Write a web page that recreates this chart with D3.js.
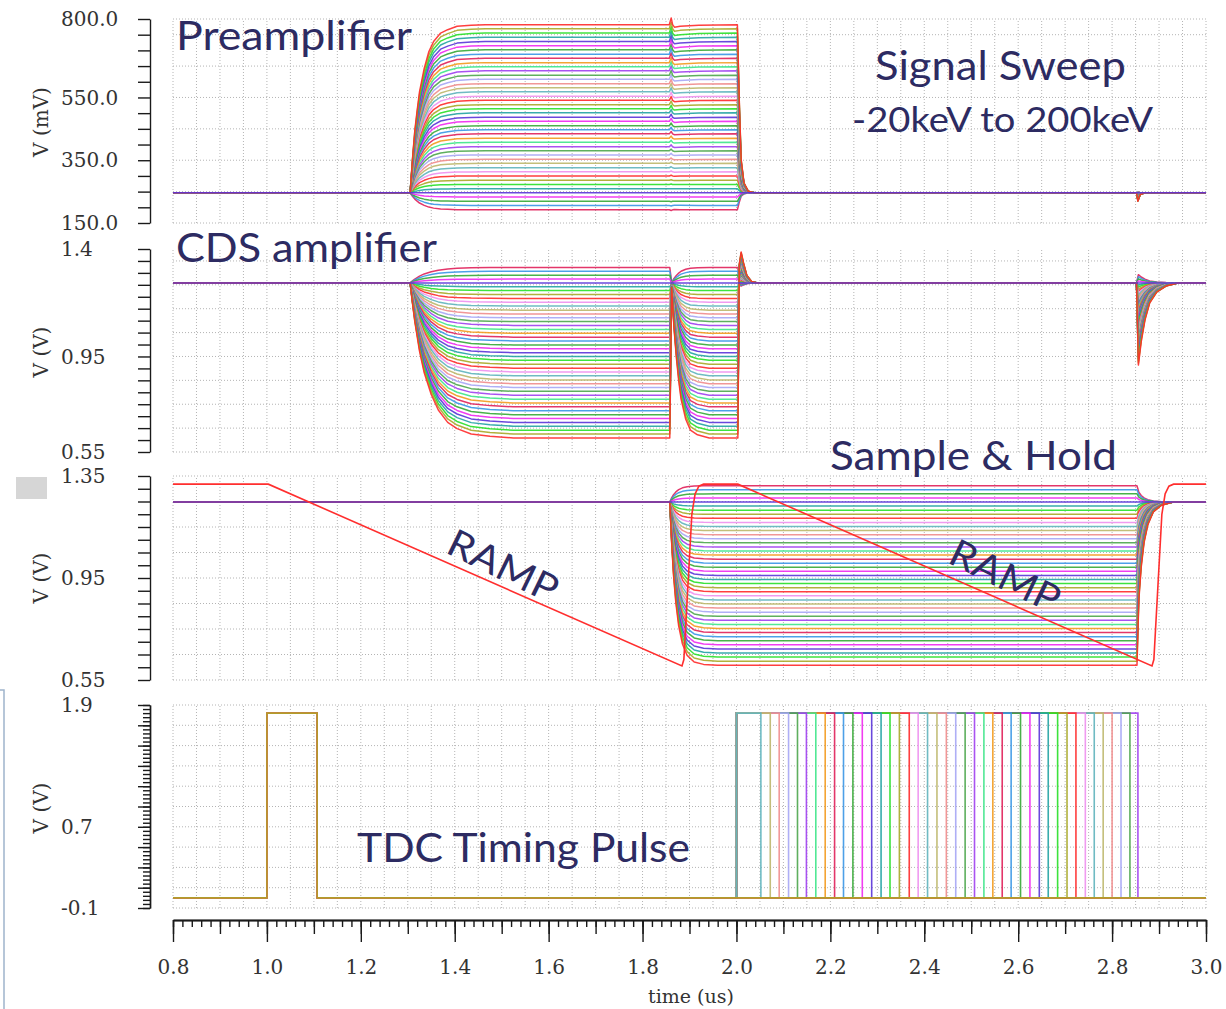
<!DOCTYPE html>
<html>
<head>
<meta charset="utf-8">
<script src="https://cdn.jsdelivr.net/npm/d3@7"></script>
<style>
  body { margin: 0; background: #fff; }
  svg { display: block; }
</style>
</head>
<body>
<svg id="chart" width="1226" height="1009"></svg>
<script>
// ---- data ----
var energyKeV = [-20,-15,-10,-5,0,5,10,15,20,25,30,35,40,45,50,55,60,65,70,75,80,85,90,95,100,
                 105,110,115,120,125,130,135,140,145,150,155,160,165,170,175,180,185,190,195,200];

// preamplifier plateau (mV), baseline 246 mV
var preBase = 246;
var preLevel = [192,206,219,233,246,259,273,286,300,313,326,340,353,367,380,393,407,420,434,447,460,474,487,501,514,
                527,541,554,568,581,594,608,621,635,648,661,675,688,702,715,728,742,755,769,782];

// CDS amplifier output level (V), baseline 1.258 V
var cdsBase = 1.258;
var cdsLevel = [1.323,1.307,1.290,1.274,1.258,1.242,1.226,1.209,1.193,1.177,1.161,1.144,1.128,1.112,1.096,
                1.080,1.063,1.047,1.031,1.015,0.998,0.982,0.966,0.950,0.934,0.917,0.901,0.885,0.869,0.852,
                0.836,0.820,0.804,0.788,0.771,0.755,0.739,0.723,0.706,0.690,0.674,0.658,0.641,0.625,0.609];

// sample & hold level (V), baseline 1.248 V
var shBase = 1.248;
var shLevel = [1.312,1.296,1.280,1.264,1.248,1.232,1.216,1.200,1.184,1.168,1.152,1.136,1.120,1.104,1.088,
               1.072,1.056,1.040,1.024,1.008,0.992,0.976,0.960,0.944,0.928,0.912,0.896,0.880,0.864,0.848,
               0.832,0.816,0.800,0.784,0.768,0.752,0.736,0.720,0.704,0.688,0.672,0.656,0.640,0.624,0.608];

// TDC falling edge of the second pulse (us); null = never goes high
var tdcFall = [null,null,null,2.052,2.072,2.091,2.111,2.130,2.149,2.169,2.189,2.209,2.228,2.248,2.268,
               2.288,2.308,2.327,2.347,2.368,2.387,2.407,2.427,2.447,2.467,2.487,2.507,2.527,2.546,2.566,
               2.585,2.605,2.625,2.645,2.664,2.684,2.704,2.723,2.743,2.762,2.781,2.800,2.819,2.838,2.855];
var tdcLow = 0.0, tdcHigh = 1.82;
var tdcPulse1 = [1.0, 1.107];
var tdcPulse2Rise = 2.0;

// waveform shapes: [time (us), fraction of the trace's step]
var preShape = [[0.8,0],[1.305,0],[1.310,0.20],[1.315,0.37],[1.320,0.49],[1.325,0.60],[1.335,0.74],
  [1.345,0.84],[1.355,0.90],[1.370,0.95],[1.385,0.97],[1.405,0.99],[1.435,0.997],[1.465,1],[1.857,1],
  [1.861,1.04],[1.864,1.0],[1.868,0.985],[1.88,0.99],[1.92,0.997],[2.002,1],[2.006,0.55],[2.010,0.2],
  [2.016,0.06],[2.025,0.01],[2.04,0],[2.852,0],[2.855,-0.05],[2.860,-0.01],[2.87,0],[3.0,0]];

var cdsShape = [[0.8,0],[1.305,0],[1.310,0.13],[1.315,0.25],[1.325,0.44],[1.335,0.58],[1.350,0.72],
  [1.365,0.82],[1.385,0.90],[1.405,0.94],[1.435,0.975],[1.475,0.99],[1.525,1],[1.858,1],[1.862,0.03],
  [1.867,0.29],[1.872,0.48],[1.877,0.63],[1.882,0.75],[1.892,0.88],[1.902,0.95],[1.917,0.98],[1.942,1],
  [2.003,1],[2.006,-0.12],[2.010,-0.2],[2.015,-0.13],[2.022,-0.05],[2.032,-0.01],[2.045,0],[2.852,0],
  [2.856,0.53],[2.862,0.38],[2.870,0.24],[2.880,0.13],[2.895,0.06],[2.915,0.02],[2.94,0],[3.0,0]];

var shShape = [[0.8,0],[1.858,0],[1.862,0.25],[1.866,0.45],[1.871,0.62],[1.877,0.76],[1.885,0.87],
  [1.895,0.94],[1.91,0.98],[1.93,0.995],[1.96,1],[2.853,1],[2.857,0.6],[2.862,0.4],[2.868,0.25],
  [2.876,0.14],[2.888,0.06],[2.905,0.02],[2.93,0],[3.0,0]];

// RAMP trace (V)
var rampT = [0.8,1.003,1.884,1.888,1.905,1.912,1.920,1.930,2.003,2.885,2.889,2.906,2.913,2.921,2.931,3.0];
var rampV = [1.318,1.318,0.605,0.63,1.20,1.28,1.31,1.318,1.318,0.605,0.63,1.20,1.28,1.31,1.318,1.318];

// axis tick labels
var timeTicks = [0.8,1.0,1.2,1.4,1.6,1.8,2.0,2.2,2.4,2.6,2.8,3.0];
var preLabels = [800,550,350,150];
var cdsLabels = ["1.4","0.95","0.55"];
var shLabels = ["1.35","0.95","0.55"];
var tdcLabels = ["1.9","0.7","-0.1"];

var palette = ["#ff2a2a","#ee90ee","#5fb4bc","#bdb76b","#f08c8c","#a6a6f5","#4ca64c","#a040f0","#3ee68a",
               "#f39a1e","#e0205a","#3a96e6","#36a836","#f028f0","#5a34d8","#22a3a3","#28e028","#a8a828"];
function sweepColor(k) { return palette[(k + 10) % palette.length]; }
function tdcColor(k) { return palette[(k + 17) % palette.length]; }

// ---- layout ----
var svg = d3.select("#chart");
var x = d3.scaleLinear().domain([0.8, 3.0]).range([173, 1206]);

var yPre = d3.scaleLinear().domain([150, 800]).range([223, 19]);
var yCds = d3.scaleLinear().domain([0.55, 1.4]).range([452, 249]);
var ySh  = d3.scaleLinear().domain([0.55, 1.35]).range([680, 476]);
var yTdc = d3.scaleLinear().domain([-0.1, 1.9]).range([908, 705]);

var tickFont = "DejaVu Serif";
var tickColor = "#333";
var noteColor = "#2d2b62";

// left-side decorations
svg.append("rect").attr("x", 16).attr("y", 477).attr("width", 31).attr("height", 22).attr("fill", "#d6d6d6");
svg.append("path").attr("d", "M0,690H4V1009").attr("fill", "none")
  .attr("stroke", "#9fb4cc").attr("stroke-width", 1.5);

// grid
function grid(y, lo, hi, step) {
  var g = svg.append("g").attr("stroke", "#b4b4b4").attr("stroke-width", 1)
    .attr("stroke-dasharray", "1,2");
  var y0 = y.range()[0], y1 = y.range()[1];
  d3.range(0, 45).forEach(function(i) {
    var xv = x(0.8 + i * 0.05);
    g.append("line").attr("x1", xv).attr("x2", xv).attr("y1", y0).attr("y2", y1);
  });
  d3.range(0, Math.round((hi - lo) / step) + 1).forEach(function(i) {
    var yv = y(lo + i * step);
    g.append("line").attr("x1", x(0.8)).attr("x2", x(3.0)).attr("y1", yv).attr("y2", yv);
  });
  return g;
}
grid(yPre, 150, 750, 100).append("line").attr("x1", x(0.8)).attr("x2", x(3.0))
  .attr("y1", yPre(800)).attr("y2", yPre(800));
grid(yCds, 0.55, 1.35, 0.1);
grid(ySh, 0.55, 1.35, 0.1);
grid(yTdc, -0.1, 1.9, 0.2);

// y axes
function yAxis(y, lo, hi, step, size) {
  var vals = d3.range(0, Math.round((hi - lo) / step) + 1).map(function(i) { return lo + i * step; });
  var g = svg.append("g").attr("transform", "translate(150,0)")
    .call(d3.axisLeft(y).tickValues(vals).tickSize(size).tickSizeOuter(0).tickFormat(""));
  g.selectAll("line, path").attr("stroke", "#1a1a1a").attr("stroke-width", 1.4);
  return g;
}
yAxis(yPre, 150, 800, 50, 12);
yAxis(yCds, 0.55, 1.4, 0.05, 12);
yAxis(ySh, 0.55, 1.35, 0.05, 12);
yAxis(yTdc, -0.1, 1.9, 0.04, 7);
yAxis(yTdc, -0.1, 1.9, 0.2, 12);

function yLabels(y, labels, fmt) {
  labels.forEach(function(v) {
    svg.append("text").attr("x", 61).attr("y", y(+v)).attr("dy", "0.36em")
      .attr("font-family", tickFont).attr("font-size", 20).attr("fill", tickColor)
      .text(fmt ? fmt(v) : v);
  });
}
yLabels(yPre, preLabels, d3.format(".1f"));
yLabels(yCds, cdsLabels);
yLabels(ySh, shLabels);
yLabels(yTdc, tdcLabels);

function yTitle(text, cy) {
  svg.append("text").attr("transform", "translate(41," + cy + ") rotate(-90)")
    .attr("text-anchor", "middle").attr("dy", "0.36em")
    .attr("font-family", tickFont).attr("font-size", 20).attr("fill", tickColor)
    .text(text);
}
yTitle("V (mV)", 122);
yTitle("V (V)", 352);
yTitle("V (V)", 578);
yTitle("V (V)", 808);

// x axis
function xAxis(step, size) {
  var vals = d3.range(0, Math.round(2.2 / step) + 1).map(function(i) { return 0.8 + i * step; });
  var g = svg.append("g").attr("transform", "translate(0,920)")
    .call(d3.axisBottom(x).tickValues(vals).tickSize(size).tickSizeOuter(0).tickFormat(""));
  g.selectAll("line, path").attr("stroke", "#1a1a1a").attr("stroke-width", 1.4);
  return g;
}
xAxis(0.02, 7);
xAxis(0.1, 14);
var xMajor = svg.append("g").attr("transform", "translate(0,920)")
  .call(d3.axisBottom(x).tickValues(timeTicks).tickSize(22).tickSizeOuter(0).tickFormat(d3.format(".1f")));
xMajor.selectAll("line, path").attr("stroke", "#1a1a1a").attr("stroke-width", 1.4);
xMajor.selectAll("text").attr("y", 47).attr("dy", "0.36em")
  .attr("font-family", tickFont).attr("font-size", 20).attr("fill", tickColor);
svg.append("text").attr("x", 691).attr("y", 996).attr("dy", "0.36em").attr("text-anchor", "middle")
  .attr("font-family", tickFont).attr("font-size", 19).attr("fill", tickColor).text("time (us)");

// traces: the 0 keV trace goes last so it sits on the baseline
var sweepOrder = d3.range(energyKeV.length).filter(function(k) { return energyKeV[k] !== 0; })
  .concat([energyKeV.indexOf(0)]);

function drawSweep(y, shape, base, levels) {
  var line = d3.line().x(function(d) { return x(d[0]); }).y(function(d) { return y(d[1]); });
  var g = svg.append("g").attr("fill", "none").attr("stroke-width", 1.5).attr("stroke-opacity", 0.9)
    .attr("stroke-linejoin", "round");
  sweepOrder.forEach(function(k) {
    var lv = levels[k];
    var pts = shape.map(function(p) { return [p[0], base + p[1] * (lv - base)]; });
    g.append("path").attr("d", line(pts)).attr("stroke", sweepColor(k));
  });
}
drawSweep(yPre, preShape, preBase, preLevel);
drawSweep(yCds, cdsShape, cdsBase, cdsLevel);
drawSweep(ySh, shShape, shBase, shLevel);

// ramp
var rampLine = d3.line().x(function(d) { return x(d[0]); }).y(function(d) { return ySh(d[1]); });
svg.append("path").attr("d", rampLine(rampT.map(function(t, i) { return [t, rampV[i]]; })))
  .attr("fill", "none").attr("stroke", "#ff2e2e").attr("stroke-width", 1.6);

// TDC pulses (drawn last-to-first so the first trace sits on top)
var tdcLine = d3.line().x(function(d) { return x(d[0]); }).y(function(d) { return yTdc(d[1]); });
var gTdc = svg.append("g").attr("fill", "none").attr("stroke-width", 1.6).attr("stroke-opacity", 0.9);
d3.range(energyKeV.length - 1, -1, -1).forEach(function(k) {
  var pts = [[0.8, tdcLow], [tdcPulse1[0], tdcLow], [tdcPulse1[0], tdcHigh],
             [tdcPulse1[1], tdcHigh], [tdcPulse1[1], tdcLow]];
  if (tdcFall[k] !== null) {
    pts.push([tdcPulse2Rise, tdcLow], [tdcPulse2Rise, tdcHigh], [tdcFall[k], tdcHigh], [tdcFall[k], tdcLow]);
  }
  pts.push([3.0, tdcLow]);
  gTdc.append("path").attr("d", tdcLine(pts)).attr("stroke", tdcColor(k));
});

// annotations
function note(text, xs, yb, len, size) {
  svg.append("text").attr("x", xs).attr("y", yb)
    .attr("font-family", "Lato, 'Open Sans', sans-serif").attr("font-size", size).attr("fill", noteColor)
    .attr("textLength", len).attr("lengthAdjust", "spacingAndGlyphs").text(text);
}
note("Preamplifier", 176, 50, 236, 40);
note("Signal Sweep", 875, 80, 251, 40);
note("-20keV to 200keV", 852, 132, 301, 35);
note("CDS amplifier", 176, 262, 261, 40);
note("Sample & Hold", 830, 470, 287, 40);
note("TDC Timing Pulse", 357, 862, 333, 40);

function rampNote(cx, cy) {
  svg.append("text").attr("transform", "translate(" + cx + "," + cy + ") rotate(26)")
    .attr("text-anchor", "middle").attr("dy", "0.35em")
    .attr("font-family", "Lato, 'Open Sans', sans-serif").attr("font-size", 38).attr("fill", noteColor)
    .attr("textLength", 118).attr("lengthAdjust", "spacingAndGlyphs").text("RAMP");
}
rampNote(503, 566);
rampNote(1005, 576);
</script>
</body>
</html>
